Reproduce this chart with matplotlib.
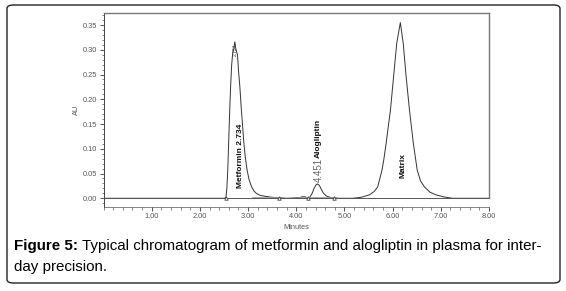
import matplotlib.pyplot as plt
from matplotlib.patches import FancyBboxPatch
from matplotlib.ticker import MultipleLocator, FormatStrFormatter

# chromatogram trace (minutes, AU)
time_min = [0.00, 2.50, 2.54, 2.56, 2.58, 2.60, 2.62, 2.64, 2.66, 2.68, 2.70,
            2.725, 2.75, 2.78, 2.80, 2.83, 2.86, 2.88, 2.91, 2.94, 2.98, 3.02,
            3.07, 3.12, 3.17, 3.25, 3.35, 3.50, 3.65, 3.80, 4.05, 4.12, 4.18,
            4.23, 4.28, 4.33, 4.37, 4.41, 4.44, 4.48, 4.52, 4.56, 4.62, 4.70,
            4.80, 5.17, 5.35, 5.52, 5.62, 5.69, 5.78, 5.82, 5.865, 5.91, 5.955,
            6.02, 6.085, 6.16, 6.22, 6.28, 6.35, 6.43, 6.51, 6.58, 6.66, 6.78,
            6.90, 7.05, 7.24, 8.00]
au = [0.000, 0.000, 0.001, 0.020, 0.060, 0.120, 0.180, 0.230, 0.270, 0.292, 0.300,
      0.316, 0.300, 0.290, 0.260, 0.225, 0.180, 0.155, 0.115, 0.085, 0.057, 0.038,
      0.024, 0.015, 0.010, 0.006, 0.004, 0.002, 0.001, 0.000, 0.001, 0.003, 0.003,
      0.001, 0.002, 0.010, 0.020, 0.027, 0.029, 0.026, 0.018, 0.011, 0.005, 0.002,
      0.000, 0.000, 0.002, 0.007, 0.014, 0.023, 0.057, 0.080, 0.111, 0.145, 0.178,
      0.246, 0.313, 0.355, 0.313, 0.246, 0.178, 0.111, 0.057, 0.035, 0.023, 0.012,
      0.007, 0.003, 0.000, 0.000]

# integration baselines and peak start/end marks
base_start = [3.10, 4.05]
base_end = [3.65, 4.85]
mark_t = [2.55, 3.65, 4.25, 4.78]

# peak labels
label_x = [2.84, 4.46, 4.46, 6.21]
label_y = [0.020, 0.082, 0.033, 0.041]
label_txt = ['Metformin 2.734', 'Alogliptin', '4.451', 'Matrix']
label_bold = [True, True, False, True]

x_ticks = [1, 2, 3, 4, 5, 6, 7, 8]
y_ticks = [0.00, 0.05, 0.10, 0.15, 0.20, 0.25, 0.30, 0.35]

caption_bold = 'Figure 5:'
caption_rest = ' Typical chromatogram of metformin and alogliptin in plasma for inter-'
caption_line2 = 'day precision.'

plt.rcParams['font.family'] = ['Liberation Sans', 'DejaVu Sans']

fig = plt.figure(figsize=(5.66, 2.91), dpi=100)

# rounded outer box
box = FancyBboxPatch((7 / 566, 8 / 291), 553 / 566, 278 / 291,
                     boxstyle='round,pad=0,rounding_size=0.012',
                     transform=fig.transFigure, fill=False,
                     edgecolor='#222222', linewidth=1.0)
fig.patches.append(box)

ax = fig.add_axes([103.5 / 566, 84.3 / 291, 385.5 / 566, 193.4 / 291])
ax.plot(time_min, au, color='#333333', linewidth=0.7)
for s, e in zip(base_start, base_end):
    ax.plot([s, e], [0.0005, 0.0005], color='#999999', linewidth=1.2)
ax.axhline(0, color='#555555', linewidth=0.7)
ax.plot(mark_t, [0.0] * len(mark_t), linestyle='none', marker='^',
        markersize=2.5, markerfacecolor='white', markeredgecolor='#444444',
        markeredgewidth=0.6)

for x, y, t, b in zip(label_x, label_y, label_txt, label_bold):
    ax.text(x, y, t, rotation=90, ha='center', va='bottom',
            fontsize=6 if b else 7, fontweight='bold' if b else 'normal',
            color='#111111' if b else '#666666')
ax.text(2.73, 0.288, '2.734', rotation=90, ha='center', va='bottom',
        fontsize=3.5, color='#333333')

ax.set_xlim(0, 8)
ax.set_ylim(-0.017, 0.3737)
ax.set_xticks(x_ticks)
ax.set_yticks(y_ticks)
ax.xaxis.set_major_formatter(FormatStrFormatter('%.2f'))
ax.yaxis.set_major_formatter(FormatStrFormatter('%.2f'))
ax.xaxis.set_minor_locator(MultipleLocator(0.2))
ax.yaxis.set_minor_locator(MultipleLocator(0.01))
ax.tick_params(axis='both', which='major', direction='out', length=3,
               width=0.6, labelsize=5.3, labelcolor='#555555', color='#333333', pad=1.5)
ax.tick_params(axis='both', which='minor', direction='out', length=1.8,
               width=0.5, color='#555555')
ax.set_xlabel('Minutes', fontsize=5.3, color='#555555', labelpad=3)
ax.set_ylabel('AU', fontsize=5.3, color='#555555', labelpad=2)

for side in ['top', 'right']:
    ax.spines[side].set_color('#777777')
    ax.spines[side].set_linewidth(1.0)
ax.spines['right'].set_bounds(0, 0.3737)
ax.spines['left'].set_color('#444444')
ax.spines['left'].set_linewidth(0.7)
ax.spines['bottom'].set_color('#555555')
ax.spines['bottom'].set_linewidth(0.5)

fs = 10.9
t1 = fig.text(14 / 566, 1 - 246 / 291, caption_bold, fontsize=fs,
              fontweight='bold', va='center', ha='left')
fig.canvas.draw()
bb = t1.get_window_extent()
fig.text(bb.x1 / 566, 1 - 246 / 291, caption_rest, fontsize=fs,
         va='center', ha='left')
fig.text(14 / 566, 1 - 267 / 291, caption_line2, fontsize=fs,
         va='center', ha='left')

fig.savefig('out.png', dpi=100)
